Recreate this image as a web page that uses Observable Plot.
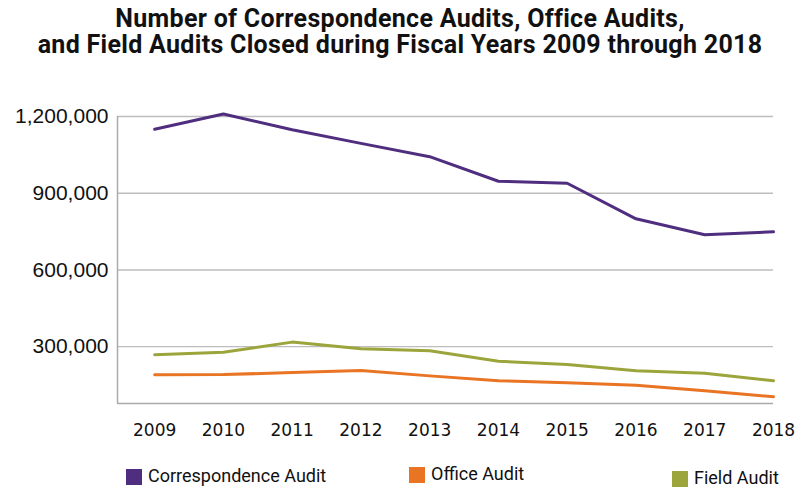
<!DOCTYPE html>
<html>
<head>
<meta charset="utf-8">
<script src="https://cdn.jsdelivr.net/npm/d3@7"></script>
<script src="https://cdn.jsdelivr.net/npm/@observablehq/plot@0.6"></script>
<style>
  html, body { margin: 0; padding: 0; background: #fff; }
  #wrap { position: relative; width: 796px; height: 491px; overflow: hidden; }
  #title { position: absolute; top: 6px; left: 0; width: 800px; text-align: center;
    font-family: "Roboto", "Liberation Sans", sans-serif; font-weight: 700; font-size: 25px; line-height: 26px;
    letter-spacing: 0.3px; color: #111; }
  #chart { position: absolute; top: 0; left: 0; }
  .leg { position: absolute; font-family: "Roboto", "Liberation Sans", sans-serif; font-size: 18px;
    color: #111; white-space: nowrap; height: 16px; }
  .leg span.sw { position: absolute; left: 0; top: 0; width: 16px; height: 16px; }
  .leg span.tx { position: absolute; left: 22px; top: -4px; line-height: 22px; }
</style>
</head>
<body>
<div id="wrap">
  <div id="title">Number of Correspondence Audits, Office Audits,<br>and Field Audits Closed during Fiscal Years 2009 through 2018</div>
  <div id="chart"></div>
  <div id="legend"></div>
</div>
<script>
const years = [2009, 2010, 2011, 2012, 2013, 2014, 2015, 2016, 2017, 2018];
const correspondence = [1150000, 1210000, 1148000, 1095000, 1043000, 947000, 939000, 800000, 738000, 749000];
const office = [190000, 191000, 199000, 207000, 186000, 167000, 159000, 149000, 128000, 104000];
const field = [269000, 278000, 318000, 292000, 284000, 243000, 230000, 206000, 196000, 167000];
const seriesNames = ["Correspondence Audit", "Office Audit", "Field Audit"];
const seriesColors = ["#4f2d7f", "#e87424", "#9ca53b"];
const yTicks = [300000, 600000, 900000, 1200000];

const seriesValues = [correspondence, office, field];
const data = [];
seriesNames.forEach((name, i) => {
  years.forEach((yr, j) => data.push({series: name, year: yr, value: seriesValues[i][j]}));
});

const xMin = 2008.46, yMin = 78000;

const chart = Plot.plot({
  width: 796,
  height: 450,
  marginTop: 116,
  marginBottom: 47,
  marginLeft: 117,
  marginRight: 23,
  style: {background: "transparent", fontFamily: "DejaVu Sans, sans-serif"},
  x: {domain: [xMin, 2018], axis: null},
  y: {domain: [yMin, 1200000], axis: null},
  color: {domain: seriesNames, range: seriesColors},
  marks: [
    Plot.gridY(yTicks, {stroke: "#bdbdbd", strokeOpacity: 1, strokeWidth: 1.3}),
    Plot.ruleX([xMin], {stroke: "#aaaaaa", strokeWidth: 1.5}),
    Plot.ruleY([yMin], {stroke: "#aaaaaa", strokeWidth: 1.5}),
    Plot.axisY(yTicks, {label: null, tickSize: 0, tickPadding: 9, tickFormat: d3.format(","), fontSize: 21,
      fontFamily: "Liberation Sans, Arial, sans-serif", fill: "#111"}),
    Plot.axisX(years, {label: null, tickSize: 0, tickPadding: 20, tickFormat: d => String(d), fontSize: 17,
      fontFamily: "DejaVu Sans, sans-serif", fill: "#111"}),
    Plot.line(data, {x: "year", y: "value", z: "series", stroke: "series", strokeWidth: 3, strokeLinejoin: "round"})
  ]
});
document.getElementById("chart").appendChild(chart);

const legendPos = [{left: 126, top: 469}, {left: 409, top: 467}, {left: 672, top: 471}];
const legend = document.getElementById("legend");
seriesNames.forEach((name, i) => {
  const d = document.createElement("div");
  d.className = "leg";
  d.style.left = legendPos[i].left + "px";
  d.style.top = legendPos[i].top + "px";
  d.innerHTML = `<span class="sw" style="background:${seriesColors[i]}"></span><span class="tx">${name}</span>`;
  legend.appendChild(d);
});
</script>
</body>
</html>
